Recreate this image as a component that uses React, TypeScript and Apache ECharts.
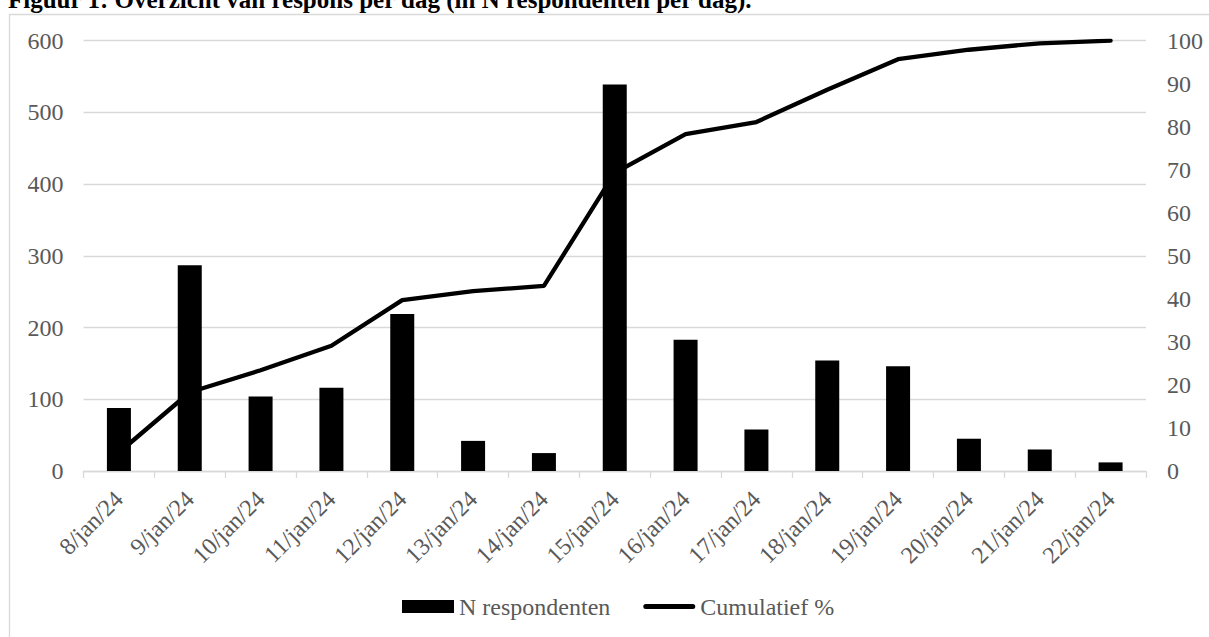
import React, { useEffect, useRef } from "react";
import * as echarts from "echarts";

const categories = [
  "8/jan/24", "9/jan/24", "10/jan/24", "11/jan/24", "12/jan/24", "13/jan/24", "14/jan/24",
  "15/jan/24", "16/jan/24", "17/jan/24", "18/jan/24", "19/jan/24", "20/jan/24", "21/jan/24", "22/jan/24",
];
const respondents = [88, 287, 104, 116, 219, 42, 25, 539, 183, 58, 154, 146, 45, 30, 12];
const cumulative = [4.3, 18.3, 23.4, 29.1, 39.7, 41.8, 43.0, 69.3, 78.3, 81.1, 88.6, 95.7, 97.9, 99.4, 100];
const titleText = "Figuur 1: Overzicht van respons per dag (in N respondenten per dag).";
const seriesNames = ["N respondenten", "Cumulatief %"];

const FONT = "'Liberation Serif', 'Times New Roman', serif";
const GRAY = "#595959";
const GRID = "#d9d9d9";
const FS = 24;
const LINE_ICON =
  "path://M0,0L0.01,0L0,0.01Z M52,13L51.99,13L52,12.99Z M2.5,4H49.5A2.5,2.5,0,0,1,49.5,9H2.5A2.5,2.5,0,0,1,2.5,4Z";

export default function App() {
  const ref = useRef<HTMLDivElement>(null);
  useEffect(() => {
    if (!ref.current) return;
    const chart = echarts.init(ref.current, null, { renderer: "svg" });
    chart.setOption({
      animation: false,
      backgroundColor: "#ffffff",
      textStyle: { fontFamily: FONT },
      graphic: [
        {
          type: "rect",
          z: -10,
          shape: { x: 9.5, y: 14.5, width: 1400, height: 800 },
          style: { fill: "none", stroke: GRID, lineWidth: 1.3 },
        },
        {
          type: "text",
          x: 8,
          y: 12,
          style: {
            text: titleText,
            fontFamily: FONT,
            fontWeight: "bold",
            fontSize: 25,
            fill: "#000000",
            verticalAlign: "bottom",
          },
        },
      ],
      grid: { left: 83.5, right: 63, top: 40.7, bottom: 166 },
      legend: {
        left: 402,
        top: 594.5,
        padding: 0,
        itemWidth: 52,
        itemHeight: 13,
        itemGap: 33,
        textStyle: { fontFamily: FONT, fontSize: FS, color: GRAY, lineHeight: 24 },
        data: [
          { name: seriesNames[0], icon: "rect" },
          { name: seriesNames[1], icon: LINE_ICON },
        ],
      },
      xAxis: {
        type: "category",
        data: categories,
        axisLine: { lineStyle: { color: GRID, width: 1.3 } },
        axisTick: { show: true, length: 7, lineStyle: { color: GRID, width: 1.3 } },
        axisLabel: {
          rotate: 45,
          interval: 0,
          margin: 24,
          fontFamily: FONT,
          fontSize: FS,
          color: GRAY,
        },
      },
      yAxis: [
        {
          type: "value",
          min: 0,
          max: 600,
          interval: 100,
          axisLine: { show: false },
          axisTick: { show: false },
          axisLabel: { margin: 20, fontFamily: FONT, fontSize: FS, color: GRAY },
          splitLine: { lineStyle: { color: GRID, width: 1.3 } },
        },
        {
          type: "value",
          min: 0,
          max: 100,
          interval: 10,
          axisLine: { show: false },
          axisTick: { show: false },
          axisLabel: { margin: 21, fontFamily: FONT, fontSize: FS, color: GRAY },
          splitLine: { show: false },
        },
      ],
      series: [
        {
          name: seriesNames[0],
          type: "bar",
          data: respondents,
          barWidth: 24,
          itemStyle: { color: "#000000" },
          yAxisIndex: 0,
        },
        {
          name: seriesNames[1],
          type: "line",
          data: cumulative,
          yAxisIndex: 1,
          symbol: "none",
          lineStyle: { color: "#000000", width: 4.3, cap: "round" },
          itemStyle: { color: "#000000" },
          z: 3,
        },
      ],
    });
    return () => chart.dispose();
  }, []);
  return (
    <div
      ref={ref}
      style={{ position: "fixed", left: 0, top: 0, width: 1209, height: 637 }}
    />
  );
}
